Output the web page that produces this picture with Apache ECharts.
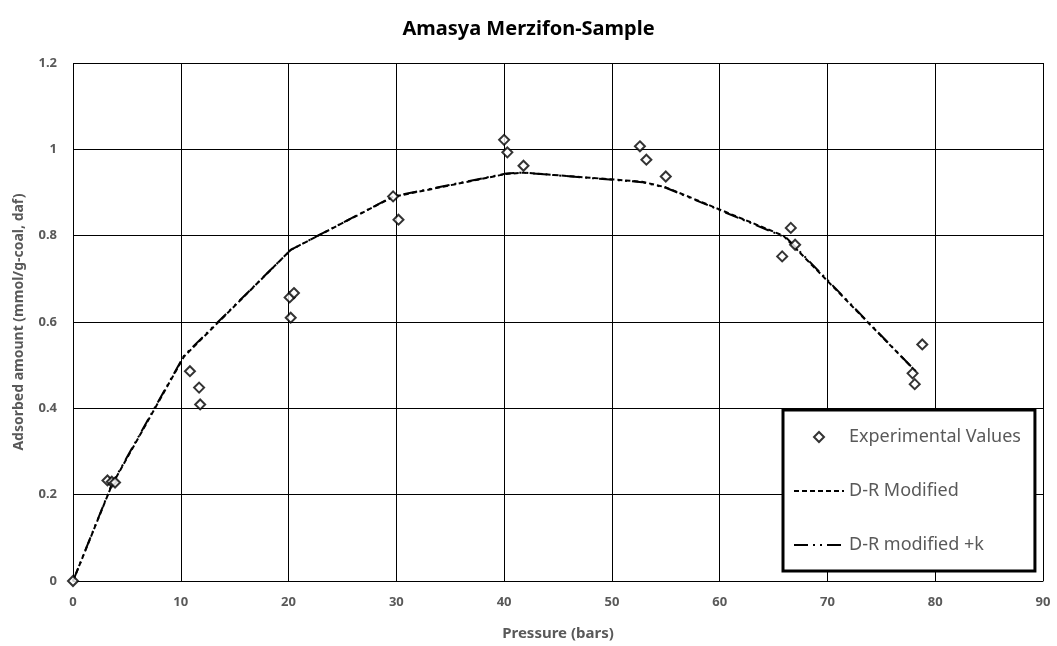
<!DOCTYPE html>
<html>
<head>
<meta charset="utf-8">
<script src="https://cdn.jsdelivr.net/npm/echarts@6/dist/echarts.min.js"></script>
<style>
html,body{margin:0;padding:0;background:#fff;}
#chart{width:1057px;height:646px;}
</style>
</head>
<body>
<div id="chart"></div>
<script>
// Experimental values
var expX = [0, 3.2, 3.6, 3.9, 10.85, 11.7, 11.8, 20.1, 20.5, 20.2, 29.7, 30.2, 40.0, 40.3, 41.8, 52.6, 53.2, 55.0, 65.8, 66.6, 67.0, 77.9, 78.1, 78.8];
var expY = [0, 0.233, 0.230, 0.228, 0.486, 0.448, 0.409, 0.657, 0.667, 0.610, 0.891, 0.837, 1.022, 0.993, 0.962, 1.007, 0.976, 0.937, 0.752, 0.818, 0.779, 0.481, 0.456, 0.548];
// D-R Modified
var drX = [0, 3.6, 10.3, 20.2, 29.7, 40.2, 41.8, 52.8, 55.0, 65.9, 78.1];
var drY = [0, 0.222, 0.520, 0.767, 0.890, 0.943, 0.946, 0.925, 0.912, 0.800, 0.488];
// D-R modified +k
var drkX = [0, 3.6, 10.3, 20.2, 29.7, 40.2, 41.8, 52.8, 55.0, 66.2, 78.5];
var drkY = [0, 0.224, 0.522, 0.767, 0.891, 0.944, 0.946, 0.924, 0.911, 0.795, 0.478];
var xTicks = [0, 10, 20, 30, 40, 50, 60, 70, 80, 90];
var yTicks = [0, 0.2, 0.4, 0.6, 0.8, 1, 1.2];

function pairs(xs, ys) { return xs.map(function (x, i) { return [x, ys[i]]; }); }

var FONT = 'Noto Sans';
var DIAMOND = 'path://M5,0 L10,5 L5,10 L0,5 Z';
var HIDDEN = {color: 'rgba(0,0,0,0)', borderColor: 'rgba(0,0,0,0)', borderWidth: 0, opacity: 0};
var chart = echarts.init(document.getElementById('chart'), null, {renderer: 'canvas'});
chart.setOption({
  animation: false,
  backgroundColor: '#fff',
  title: {
    text: 'Amasya Merzifon-Sample',
    left: 'center',
    top: 14,
    textStyle: {fontFamily: FONT, fontWeight: 'bold', fontSize: 20, color: '#000'}
  },
  grid: {left: 73, right: 14, top: 63, bottom: 64, containLabel: false},
  xAxis: {
    type: 'value', min: xTicks[0], max: xTicks[xTicks.length - 1], interval: 10,
    name: 'Pressure (bars)', nameLocation: 'middle', nameGap: 45,
    nameTextStyle: {fontFamily: FONT, fontWeight: 'bold', fontSize: 15, color: '#595959'},
    axisLine: {lineStyle: {color: '#000', width: 1}},
    axisTick: {show: false},
    axisLabel: {fontFamily: FONT, fontWeight: 'bold', fontSize: 13, color: '#595959', margin: 15},
    splitLine: {show: true, lineStyle: {color: '#000', width: 1}}
  },
  yAxis: {
    type: 'value', min: yTicks[0], max: yTicks[yTicks.length - 1], interval: 0.2,
    name: 'Adsorbed amount (mmol/g-coal, daf)', nameLocation: 'middle', nameGap: 47,
    nameTextStyle: {fontFamily: FONT, fontWeight: 'bold', fontSize: 14, color: '#595959'},
    axisLine: {show: false},
    axisTick: {show: false},
    axisLabel: {fontFamily: FONT, fontWeight: 'bold', fontSize: 13, color: '#595959', margin: 16,
      formatter: function (v) { return String(Math.round(v * 10) / 10); }},
    splitLine: {show: true, lineStyle: {color: '#000', width: 1}}
  },
  legend: {
    orient: 'vertical',
    left: 783, top: 410,
    padding: [18, 14, 17, 10],
    itemGap: 36,
    itemWidth: 50, itemHeight: 10,
    symbolKeepAspect: true,
    backgroundColor: '#fff',
    borderColor: '#000', borderWidth: 3,
    textStyle: {fontFamily: FONT, fontSize: 18, color: '#595959'},
    data: [
      {name: 'Experimental Values', icon: DIAMOND},
      {name: 'D-R Modified', itemStyle: HIDDEN},
      {name: 'D-R modified +k', itemStyle: HIDDEN}
    ]
  },
  series: [
    {
      name: 'D-R Modified', type: 'line', data: pairs(drX, drY),
      symbol: 'none', showSymbol: false, color: '#000',
      lineStyle: {color: '#000', width: 2, type: [5, 3]}, z: 3
    },
    {
      name: 'D-R modified +k', type: 'line', data: pairs(drkX, drkY),
      symbol: 'none', showSymbol: false, color: '#000',
      lineStyle: {color: '#000', width: 2, type: [14, 5, 2, 5, 2, 5]}, z: 3
    },
    {
      name: 'Experimental Values', type: 'scatter', data: pairs(expX, expY),
      symbol: 'diamond', symbolSize: 10, symbolKeepAspect: true,
      itemStyle: {color: '#fff', borderColor: '#000', borderWidth: 2}, z: 4
    }
  ]
});
</script>
</body>
</html>
